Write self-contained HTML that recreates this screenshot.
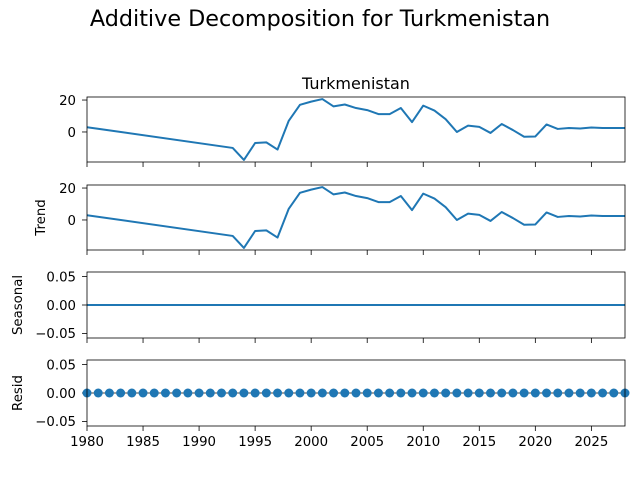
<!DOCTYPE html>
<html><head><meta charset="utf-8"><style>
body{margin:0;background:#fff}
svg{display:block;font-family:"DejaVu Sans","Liberation Sans",sans-serif}
</style></head><body>
<svg id="c" width="640" height="480">
<text x="320" y="26" text-anchor="middle" font-size="22.3">Additive Decomposition for Turkmenistan</text>
<text x="356" y="89" text-anchor="middle" font-size="16">Turkmenistan</text>
</svg>
<script>
const years=[1980,1993,1994,1995,1996,1997,1998,1999,2000,2001,2002,2003,2004,2005,2006,2007,2008,2009,2010,2011,2012,2013,2014,2015,2016,2017,2018,2019,2020,2021,2022,2023,2024,2025,2026,2027,2028];
const observed=[3,-10,-17.5,-6.9,-6.5,-11,7,17,19,20.6,16,17.2,15,13.7,11.2,11.2,15,6.2,16.5,13.4,8,0,4,3.2,-0.6,5,1.2,-3,-2.8,4.7,1.9,2.5,2.2,2.8,2.5,2.5,2.5];
const trend=observed.slice();
const residYears=[];for(let y=1980;y<=2028;y++)residYears.push(y);
const residVals=residYears.map(()=>0);
const xTicks=[1980,1985,1990,1995,2000,2005,2010,2015,2020,2025];
const svg=document.getElementById('c');const NS='http://www.w3.org/2000/svg';
const X0=87,X1=625;
const xs=v=>X0+(v-1980)/(2028-1980)*(X1-X0);
function el(t,a,p){const e=document.createElementNS(NS,t);for(const k in a)e.setAttribute(k,a[k]);(p||svg).appendChild(e);return e;}
function panel(name,top,bot,ymin,ymax,ticks,fmt,ylabel,lx){
 const ys=v=>bot-(v-ymin)/(ymax-ymin)*(bot-top);
 const g=el('g',{});
 
 
 ticks.forEach(t=>{const y=ys(t);el('line',{x1:X0-5,x2:X0,y1:y,y2:y,stroke:'#000','stroke-width':0.8},g);
  const tx=el('text',{x:X0-11,y:y+4.8,'text-anchor':'end','font-size':13.3},g);tx.textContent=fmt(t);
  
  });
 if(ylabel){const l=el('text',{x:0,y:0,'text-anchor':'middle','font-size':13.3,transform:`translate(${lx},${(top+bot)/2}) rotate(-90)`},g);l.textContent=ylabel;
  
  }
 xTicks.forEach(t=>el('line',{x1:xs(t),x2:xs(t),y1:bot,y2:bot+5,stroke:'#000','stroke-width':0.8},g));
 return {g,ys,top,bot};
}
function frame(p){el('rect',{x:X0,y:p.top,width:X1-X0,height:p.bot-p.top,fill:'none',stroke:'#000','stroke-width':0.8},p.g);}
function line(p,xv,yv,name){const cp='cp'+name;const c=el('clipPath',{id:cp});el('rect',{x:X0,y:p.top,width:X1-X0,height:p.bot-p.top},c);
 const l=el('polyline',{points:xv.map((x,i)=>xs(x)+','+p.ys(yv[i])).join(' '),fill:'none',stroke:'#1f77b4','stroke-width':2,'stroke-linejoin':'round','clip-path':`url(#${cp})`},p.g);
 
 }
const fi=v=>String(v);const f2=v=>v.toFixed(2).replace('-','\u2212');
const p1=panel('observed',97,162,-18.8,21.9,[0,20],fi,null,0);line(p1,years,observed,'observed');frame(p1);
const p2=panel('trend',185,250,-18.8,21.9,[0,20],fi,'Trend',45);line(p2,years,trend,'trend');frame(p2);
const p3=panel('seasonal',272,338,-0.058,0.058,[-0.05,0,0.05],f2,'Seasonal',22);line(p3,residYears,residVals,'seasonal');frame(p3);
const p4=panel('resid',360,426,-0.058,0.058,[-0.05,0,0.05],f2,'Resid',22);
el('line',{x1:X0,x2:X1,y1:p4.ys(0),y2:p4.ys(0),stroke:'#000','stroke-width':0.8},p4.g);
residYears.forEach((y,i)=>{const c=el('circle',{cx:xs(y),cy:p4.ys(residVals[i]),r:4.5,fill:'#1f77b4'},p4.g);
 
 });
frame(p4);
xTicks.forEach(t=>{const tx=el('text',{x:xs(t),y:446,'text-anchor':'middle','font-size':13.3});tx.textContent=t;
 
 });
</script>
</body></html>
